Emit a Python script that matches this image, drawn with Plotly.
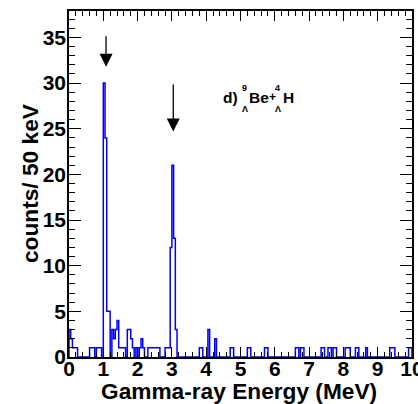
import plotly.graph_objects as go

# ---- data (counts per 50 keV bin, 0-10 MeV) ----
bin_width = 0.05
counts = [
    3, 2, 1, 1, 1, 0, 0, 0, 0, 0, 0, 0, 1, 1, 1, 0, 1, 1, 1, 0,
    30, 24, 5, 5, 0, 3, 2, 3, 4, 1, 1, 1, 1, 0, 3, 3, 2, 1, 0, 1,
    0, 1, 2, 1, 0, 0, 1, 1, 1, 1, 1, 1, 1, 0, 0, 0, 1, 1, 1, 12,
    21, 13, 3, 0, 0, 0, 0, 0, 0, 0, 0, 0, 0, 0, 0, 0, 1, 1, 0, 0,
    0, 3, 0, 0, 0, 2, 0, 0, 0, 0, 0, 0, 0, 0, 1, 1, 0, 0, 0, 0,
    0, 0, 0, 0, 1, 1, 0, 0, 0, 0, 0, 0, 0, 0, 1, 1, 0, 0, 0, 0,
    0, 0, 0, 0, 0, 0, 0, 0, 0, 0, 0, 0, 1, 1, 0, 1, 1, 0, 0, 0,
    0, 0, 0, 0, 0, 0, 0, 1, 1, 0, 0, 1, 1, 0, 1, 1, 0, 0, 0, 0,
    0, 1, 1, 1, 0, 0, 0, 1, 1, 0, 0, 0, 0, 1, 0, 0, 0, 0, 0, 0,
    0, 0, 0, 0, 0, 0, 0, 1, 1, 1, 0, 0, 0, 0, 0, 0, 0, 0, 1, 1,
]
x_ticks = [0, 1, 2, 3, 4, 5, 6, 7, 8, 9, 10]
y_ticks = [0, 5, 10, 15, 20, 25, 30, 35]
arrow_energies = [1.08, 3.04]
arrow_tips = [31.8, 24.7]
arrow_tails = [35.3, 30.0]

X_RANGE = [0, 10]
Y_RANGE = [0, 37.9]

edges = [round(i * bin_width, 4) for i in range(len(counts) + 1)]
xs = [edges[0]] + edges + [edges[-1]]
ys = [0] + counts + [counts[-1], 0]

fig = go.Figure()
fig.add_trace(go.Scatter(
    x=xs, y=ys, mode="lines", line=dict(color="#0000ff", width=1.5, shape="hv"),
    hoverinfo="skip", showlegend=False,
))
# invisible trace so the mirrored (top/right) tick axes get drawn
fig.add_trace(go.Scatter(
    x=X_RANGE, y=Y_RANGE, xaxis="x2", yaxis="y2", mode="markers",
    marker=dict(opacity=0), hoverinfo="skip", showlegend=False,
))

FONT = "Liberation Sans"
tickfont = dict(family=FONT, size=21, color="black", weight="bold")
common = dict(showline=True, linecolor="black", linewidth=1.5, ticks="inside",
              tickcolor="black", tickwidth=1.2, showgrid=False, zeroline=False,
              automargin=False)
xminor = dict(dtick=0.2, ticklen=5, ticks="inside", tickcolor="black", tickwidth=1.2, showgrid=False)
yminor = dict(dtick=1, ticklen=6, ticks="inside", tickcolor="black", tickwidth=1.2, showgrid=False)

fig.update_layout(
    xaxis=dict(range=X_RANGE, tickvals=x_ticks, ticklen=10, minor=xminor, mirror=True,
               tickfont=tickfont, ticklabeloverflow="allow", ticklabelstandoff=-8, **common),
    yaxis=dict(range=Y_RANGE, tickvals=y_ticks, ticklen=12, minor=yminor, mirror=True,
               tickfont=tickfont, ticklabelstandoff=-3, **common),
    xaxis2=dict(range=X_RANGE, tickvals=x_ticks, ticklen=10, minor=xminor, overlaying="x",
                side="top", anchor="y2", showticklabels=False, **common),
    yaxis2=dict(range=Y_RANGE, tickvals=y_ticks, ticklen=12, minor=yminor, overlaying="y",
                side="right", anchor="x2", showticklabels=False, **common),
)

# axis titles
title_font = dict(family=FONT, size=22.7, color="black", weight="bold")
fig.add_annotation(text="Gamma-ray Energy (MeV)", xref="paper", yref="paper",
                   x=0.495, y=-0.097, xanchor="center", yanchor="middle",
                   showarrow=False, font=title_font)
fig.add_annotation(text="counts/ 50 keV", xref="paper", yref="paper", textangle=-90,
                   x=-0.1137, y=0.5, xanchor="center", yanchor="middle",
                   showarrow=False, font=title_font)

for xe, yt, ya in zip(arrow_energies, arrow_tips, arrow_tails):
    fig.add_annotation(
        x=xe, y=yt, ax=xe, ay=ya, xref="x", yref="y", axref="x", ayref="y",
        showarrow=True, arrowhead=2, arrowsize=2.0, arrowwidth=1.3, arrowcolor="black", text="",
    )

big = dict(family=FONT, size=15.5, color="black", weight="bold")
plus = dict(family=FONT, size=12, color="black", weight="bold")
small = dict(family=FONT, size=9, color="black", weight="bold")
labels = [
    ("d)", 4.42, 28.45, big, "left"),
    ("9", 5.13, 29.45, small, "center"),
    ("\u039b", 5.13, 27.2, small, "center"),
    ("Be", 5.2, 28.45, big, "left"),
    ("+", 5.92, 28.45, plus, "center"),
    ("4", 6.08, 29.45, small, "center"),
    ("\u039b", 6.08, 27.2, small, "center"),
    ("H", 6.19, 28.45, big, "left"),
]
for txt, xx, yy, fnt, anc in labels:
    fig.add_annotation(x=xx, y=yy, xref="x", yref="y", text=txt, showarrow=False,
                       font=fnt, xanchor=anc, yanchor="middle")

fig.update_layout(
    width=418, height=404, margin=dict(l=69, r=6, t=11, b=47),
    paper_bgcolor="white", plot_bgcolor="white", showlegend=False,
)
fig.write_html("out.html")
